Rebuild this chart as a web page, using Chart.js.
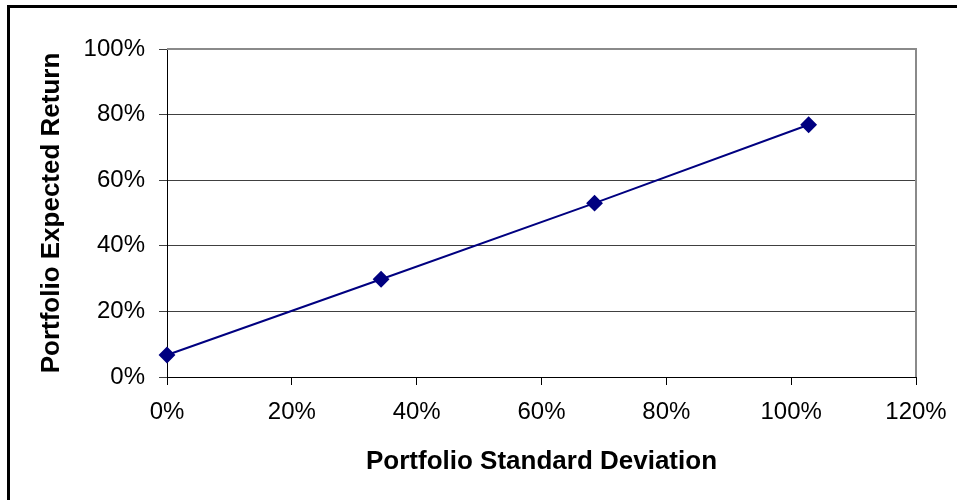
<!DOCTYPE html>
<html>
<head>
<meta charset="utf-8">
<script src="https://cdn.jsdelivr.net/npm/chart.js@4/dist/chart.umd.min.js"></script>
<style>
    html, body { margin: 0; padding: 0; background: #fff; }
    #wrap { width: 957px; height: 500px; }
</style>
</head>
<body>
<div id="wrap"><canvas id="frontierChart" width="957" height="500"></canvas></div>
<script>
// Portfolio standard deviation (%) and expected return (%)
const stdDevs = [0, 34.3, 68.5, 102.8];
const expReturns = [6.7, 29.8, 53.0, 76.9];

const xTicks = [0, 20, 40, 60, 80, 100, 120];
const yTicks = [0, 20, 40, 60, 80, 100];

const navy = '#000080';
const fontFamily = '"Liberation Sans", Arial, sans-serif';

// Outer black frame + grey plot-area border (top/right)
const framePlugin = {
    id: 'frame',
    afterDraw(chart) {
        const ctx = chart.ctx;
        const area = chart.chartArea;
        ctx.save();
        ctx.strokeStyle = '#000';
        ctx.lineWidth = 3;
        ctx.beginPath();
        ctx.moveTo(8.5, 1000);
        ctx.lineTo(8.5, 6.5);
        ctx.lineTo(1000, 6.5);
        ctx.stroke();

        ctx.strokeStyle = '#8a8a8a';
        ctx.lineWidth = 2;
        ctx.beginPath();
        ctx.moveTo(area.left, area.top);
        ctx.lineTo(area.right, area.top);
        ctx.lineTo(area.right, area.bottom);
        ctx.stroke();
        ctx.restore();
    }
};

new Chart(document.getElementById('frontierChart'), {
    type: 'scatter',
    data: {
        datasets: [{
            data: stdDevs.map((x, i) => ({ x: x, y: expReturns[i] })),
            showLine: true,
            clip: false,
            borderColor: navy,
            borderWidth: 2,
            backgroundColor: navy,
            pointStyle: 'rectRot',
            pointRadius: 7,
            pointBorderColor: navy,
            pointBackgroundColor: navy,
            tension: 0
        }]
    },
    options: {
        responsive: false,
        animation: false,
        layout: {
            padding: { left: 0, top: 49, right: 41, bottom: 0 }
        },
        plugins: {
            legend: { display: false },
            tooltip: { enabled: false }
        },
        scales: {
            x: {
                type: 'linear',
                min: 0,
                max: 120,
                afterBuildTicks: axis => { axis.ticks = xTicks.map(v => ({ value: v })); },
                afterFit: axis => {
                    axis.height = 123;
                    axis.paddingLeft = 0;
                    axis.paddingRight = 0;
                },
                ticks: {
                    color: '#000',
                    font: { family: fontFamily, size: 24 },
                    padding: 13,
                    maxRotation: 0,
                    callback: v => v + '%'
                },
                grid: {
                    drawOnChartArea: false,
                    drawTicks: true,
                    tickLength: 8,
                    color: '#000'
                },
                border: { color: '#000', width: 1 },
                title: {
                    display: true,
                    text: 'Portfolio Standard Deviation',
                    color: '#000',
                    font: { family: fontFamily, size: 26, weight: 'bold' },
                    padding: { top: 0, bottom: 23 }
                }
            },
            y: {
                type: 'linear',
                min: 0,
                max: 100,
                afterBuildTicks: axis => { axis.ticks = yTicks.map(v => ({ value: v })); },
                afterFit: axis => {
                    axis.width = 167;
                    axis.paddingTop = 0;
                    axis.paddingBottom = 0;
                },
                ticks: {
                    color: '#000',
                    font: { family: fontFamily, size: 24 },
                    padding: 14,
                    callback: v => v + '%'
                },
                grid: {
                    drawOnChartArea: true,
                    drawTicks: true,
                    tickLength: 8,
                    color: '#404040'
                },
                border: { color: '#000', width: 1 },
                title: {
                    display: true,
                    text: 'Portfolio Expected Return',
                    color: '#000',
                    font: { family: fontFamily, size: 26, weight: 'bold' },
                    padding: { top: 36, bottom: 0 }
                }
            }
        }
    },
    plugins: [framePlugin]
});
</script>
</body>
</html>
